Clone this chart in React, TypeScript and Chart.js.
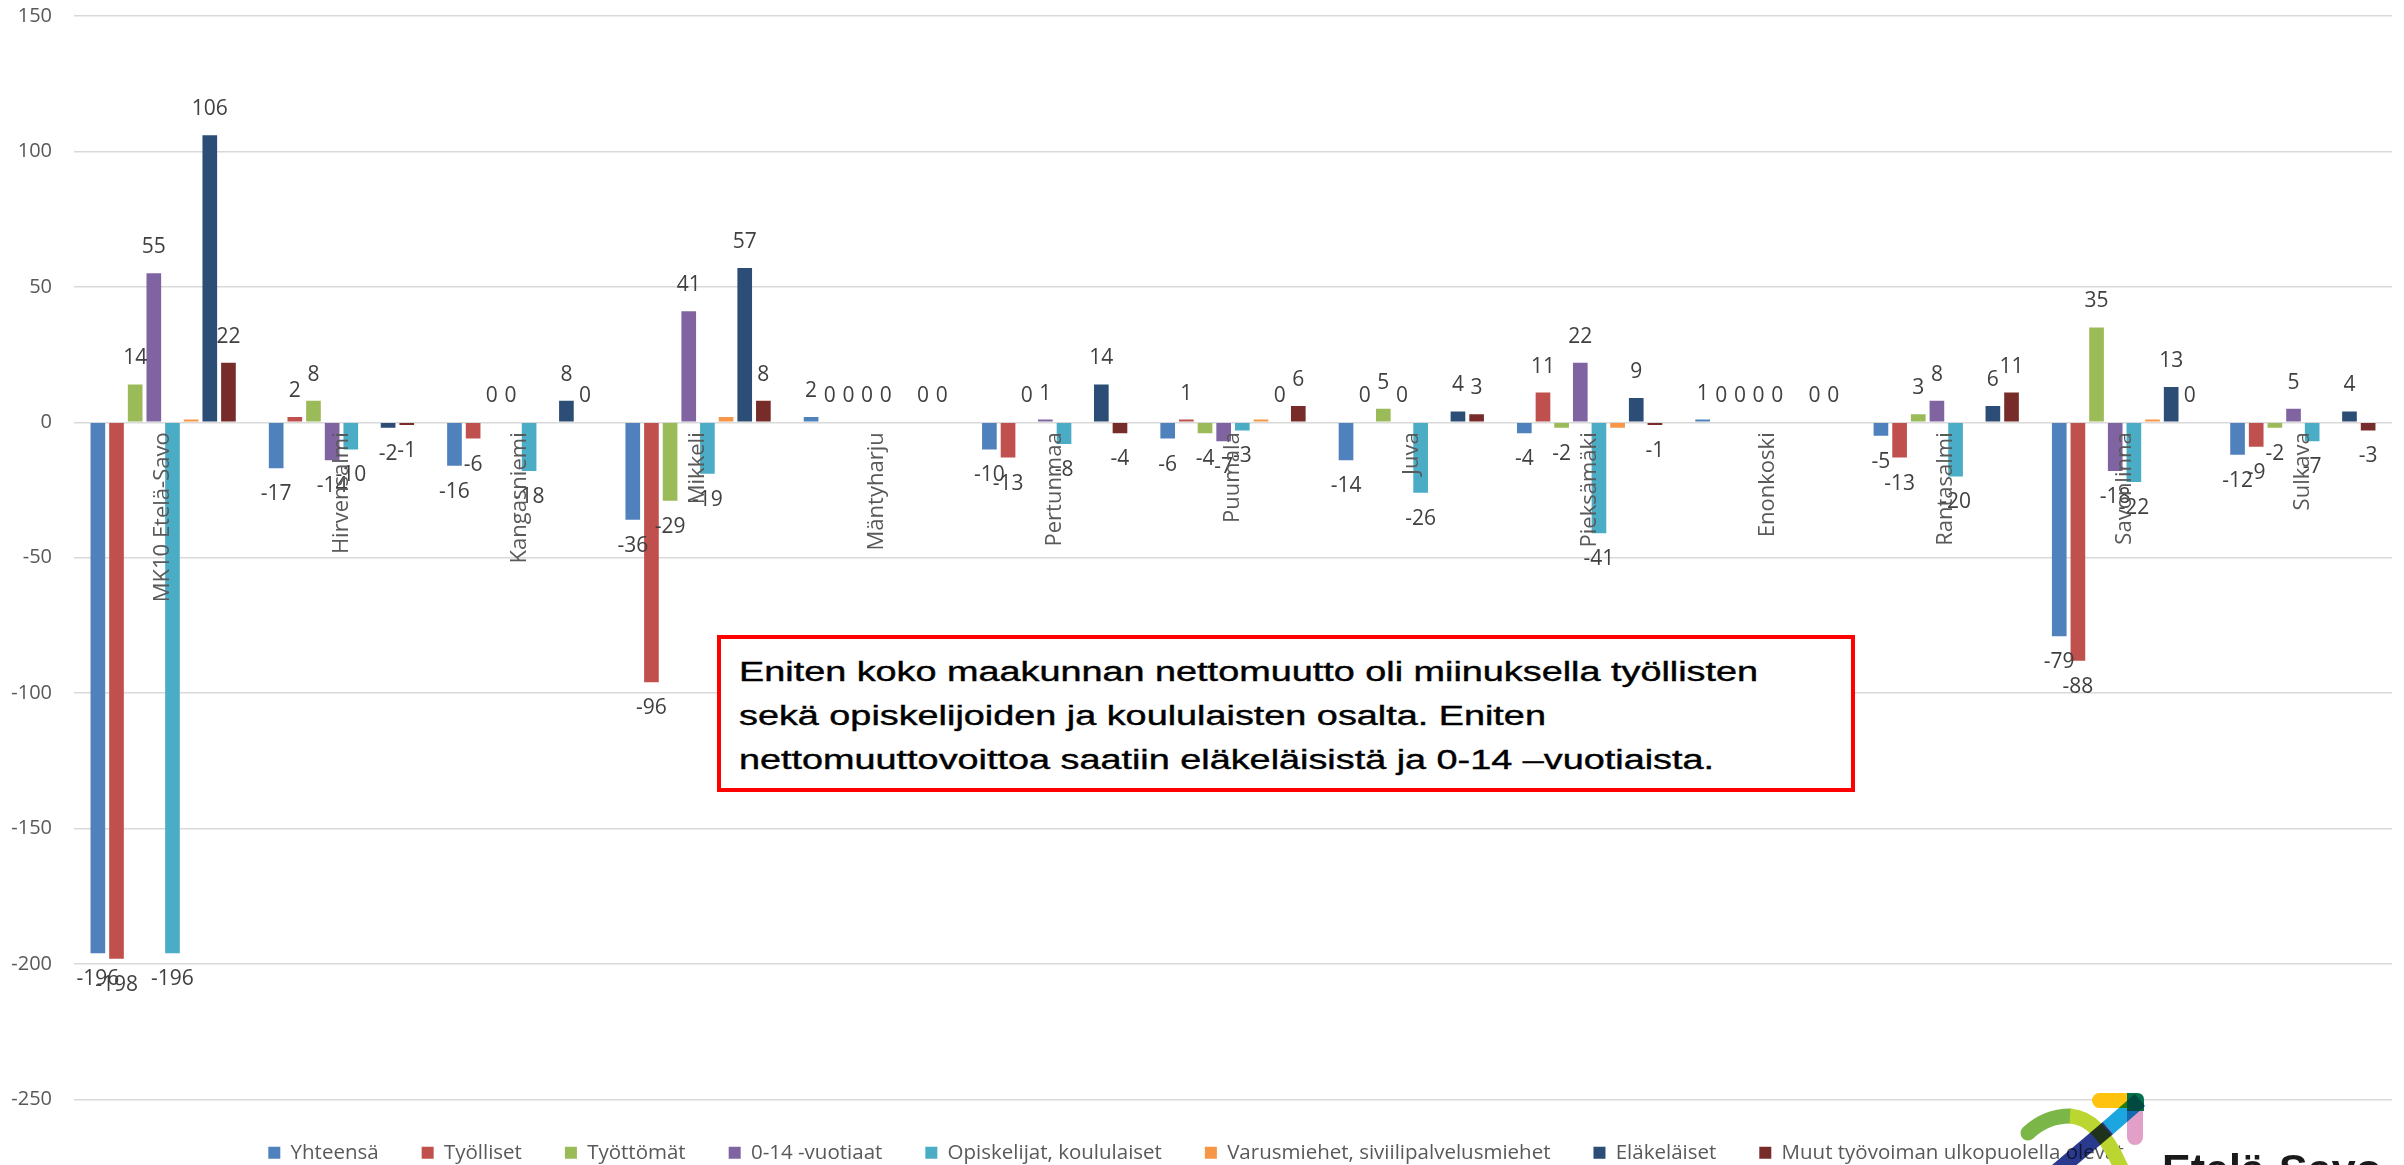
import { useEffect, useRef } from "react";
import { Chart, registerables } from "chart.js";

Chart.register(...registerables);

const categories = [
  "MK10 Etelä-Savo",
  "Hirvensalmi",
  "Kangasniemi",
  "Mikkeli",
  "Mäntyharju",
  "Pertunmaa",
  "Puumala",
  "Juva",
  "Pieksämäki",
  "Enonkoski",
  "Rantasalmi",
  "Savonlinna",
  "Sulkava",
];

const yhteensa = [-196, -17, -16, -36, 2, -10, -6, -14, -4, 1, -5, -79, -12];
const tyolliset = [-198, 2, -6, -96, 0, -13, 1, 0, 11, 0, -13, -88, -9];
const tyottomat = [14, 8, 0, -29, 0, 0, -4, 5, -2, 0, 3, 35, -2];
const vuotiaat = [55, -14, 0, 41, 0, 1, -7, 0, 22, 0, 8, -18, 5];
const opiskelijat = [-196, -10, -18, -19, 0, -8, -3, -26, -41, 0, -20, -22, -7];
const varusmiehet = [1, 0, 0, 2, 0, 0, 1, 0, -2, 0, 0, 1, 0];
const elakelaiset = [106, -2, 8, 57, 0, 14, 0, 4, 9, 0, 6, 13, 4];
const muut = [22, -1, 0, 8, 0, -4, 6, 3, -1, 0, 11, 0, -3];

const seriesNames = [
  "Yhteensä",
  "Työlliset",
  "Työttömät",
  "0-14 -vuotiaat",
  "Opiskelijat, koululaiset",
  "Varusmiehet, siviilipalvelusmiehet",
  "Eläkeläiset",
  "Muut työvoiman ulkopuolella olevat",
];
const seriesData = [yhteensa, tyolliset, tyottomat, vuotiaat, opiskelijat, varusmiehet, elakelaiset, muut];
const seriesColors = ["#4F81BD", "#C0504D", "#9BBB59", "#8064A2", "#4BACC6", "#F79646", "#2C4D75", "#772C2A"];
const unlabeledSeries = [5];

const yTicks = { min: -250, max: 150, step: 50 };

const FONT = "'Open Sans', 'DejaVu Sans', sans-serif";

const labelsPlugin = {
  id: "valueAndCategoryLabels",
  afterDatasetsDraw(chart: any) {
    const ctx = chart.ctx;
    ctx.save();
    ctx.font = `21px ${FONT}`;
    ctx.textAlign = "center";
    ctx.textBaseline = "middle";
    ctx.fillStyle = "#404040";
    chart.data.datasets.forEach((ds: any, i: number) => {
      if (unlabeledSeries.includes(i)) return;
      const meta = chart.getDatasetMeta(i);
      meta.data.forEach((bar: any, j: number) => {
        const v = ds.data[j];
        const y = v >= 0 ? bar.y - 26 : bar.y + 26;
        ctx.fillText(String(v), bar.x, y);
      });
    });
    const yZero = chart.scales.y.getPixelForValue(0);
    ctx.fillStyle = "#595959";
    ctx.font = `22px ${FONT}`;
    chart.data.labels.forEach((c: string, k: number) => {
      const x = chart.scales.x.getPixelForValue(k);
      ctx.save();
      ctx.translate(x, yZero + 10);
      ctx.rotate(-Math.PI / 2);
      ctx.textAlign = "right";
      ctx.textBaseline = "middle";
      ctx.fillText(c, 0, 0);
      ctx.restore();
    });
    ctx.restore();
  },
};

export default function App() {
  const canvasRef = useRef<HTMLCanvasElement | null>(null);

  useEffect(() => {
    if (!canvasRef.current) return;
    const chart = new Chart(canvasRef.current, {
      type: "bar",
      data: {
        labels: categories,
        datasets: seriesNames.map((name, i) => ({
          label: name,
          data: seriesData[i],
          backgroundColor: seriesColors[i],
          borderWidth: 0,
          categoryPercentage: 0.837,
          barPercentage: 0.786,
        })),
      },
      options: {
        animation: false,
        responsive: true,
        maintainAspectRatio: false,
        layout: { padding: { top: 14, right: 12, left: 0, bottom: 0 } },
        plugins: {
          legend: {
            position: "bottom",
            labels: {
              boxWidth: 12,
              boxHeight: 12,
              padding: 43,
              color: "#595959",
              font: { family: FONT, size: 20.5 },
            },
          },
          tooltip: { enabled: false },
        },
        scales: {
          x: {
            display: false,
            grid: { display: false },
          },
          y: {
            min: yTicks.min,
            max: yTicks.max,
            ticks: {
              stepSize: yTicks.step,
              color: "#595959",
              font: { family: FONT, size: 20 },
              padding: 22,
            },
            grid: { color: "#D9D9D9", lineWidth: 1.5, drawTicks: false },
            border: { display: false },
            afterFit: (s: any) => {
              s.width = 74;
              s.paddingTop = 12;
              s.paddingBottom = 12;
            },
          },
        },
      },
      plugins: [labelsPlugin],
    });
    return () => chart.destroy();
  }, []);

  return (
    <div
      style={{
        position: "fixed",
        left: 0,
        top: 0,
        width: 2404,
        height: 1165,
        overflow: "hidden",
        background: "#fff",
      }}
    >
      <div style={{ position: "absolute", left: 0, top: 2, width: 2404, height: 1171 }}>
        <canvas ref={canvasRef} />
      </div>
      <div
        style={{
          position: "absolute",
          left: 717,
          top: 635,
          width: 1138,
          height: 157,
          boxSizing: "border-box",
          border: "4px solid #FF0000",
          background: "#fff",
          overflow: "hidden",
        }}
      >
        <div
          style={{
            position: "absolute",
            left: 18,
            top: 11,
            fontFamily: "'Liberation Sans', Arial, sans-serif",
            fontSize: 27,
            lineHeight: "44px",
            color: "#000",
            whiteSpace: "pre",
            WebkitTextStroke: "0.4px #000",
            transform: "scaleX(1.40)",
            transformOrigin: "left top",
          }}
        >
          {"Eniten koko maakunnan nettomuutto oli miinuksella työllisten\nsekä opiskelijoiden ja koululaisten osalta. Eniten\nnettomuuttovoittoa saatiin eläkeläisistä ja 0-14 –vuotiaista."}
        </div>
      </div>
      <svg
        style={{ position: "absolute", left: 1980, top: 1070 }}
        width={424}
        height={95}
        viewBox="0 0 424 95"
      >
        <rect x={147} y={32} width={16} height={43} rx={8} fill="#E2A0C8" />
        <rect x={112} y={23} width={42} height={15} rx={7.5} fill="#FFC20E" />
        <path d="M147 23 H157 Q164 23 164 30 V41 H147 Z" fill="#00704A" />
        <path d="M48 63 Q66 46 90 46" stroke="#7AB648" strokeWidth={15} strokeLinecap="round" fill="none" />
        <path d="M90 46 Q120 48 142 100" stroke="#BCD631" strokeWidth={15} fill="none" />
        <g style={{ mixBlendMode: "multiply" }}>
          <line x1={160} y1={30} x2={128} y2={58} stroke="#1BA6DF" strokeWidth={16} />
          <line x1={128} y1={58} x2={76} y2={102} stroke="#2A3B8F" strokeWidth={16} />
        </g>
        <text
          x={182}
          y={114}
          fontFamily="'Liberation Sans', Arial, sans-serif"
          fontWeight="bold"
          fontSize={43}
          fill="#1A1A1A"
        >
          Etelä-Savo
        </text>
      </svg>
    </div>
  );
}
